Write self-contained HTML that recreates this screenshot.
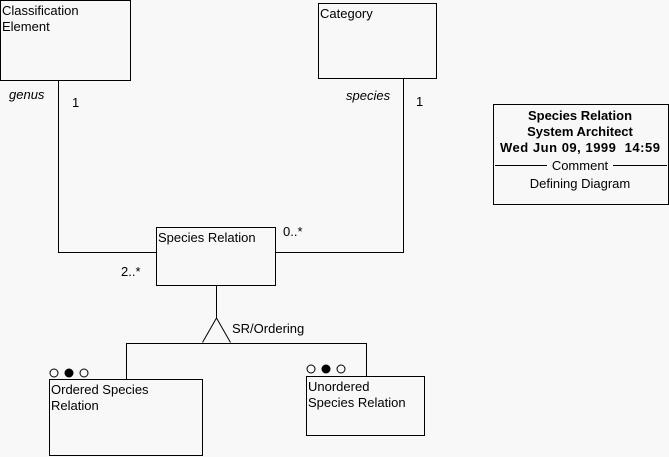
<!DOCTYPE html>
<html><head><style>
html,body{margin:0;padding:0;background:#f8f8f8;}
svg{display:block;}
text{font-family:"Liberation Sans",Arial,sans-serif;font-size:13px;fill:#000;}
</style></head><body>
<svg width="669" height="457" xmlns="http://www.w3.org/2000/svg">
<rect width="669" height="457" fill="#f8f8f8"/>
<g fill="none" stroke="#000" stroke-width="1">
<rect x="0.5" y="0.5" width="130" height="80"/>
<rect x="318.5" y="3.5" width="118" height="75"/>
<rect x="156.5" y="227.5" width="119" height="58"/>
<rect x="49.5" y="379.5" width="153" height="76"/>
<rect x="306.5" y="376.5" width="118" height="59"/>
<rect x="493.5" y="104.5" width="175" height="100"/>
<polyline points="58.5,81 58.5,252.5 156,252.5"/>
<polyline points="276,252.5 403.5,252.5 403.5,79"/>
<line x1="216.5" y1="286" x2="216.5" y2="318"/>
<polyline points="202.5,342.5 216.5,318 230.5,342.5"/>
<polyline points="126.5,379 126.5,343.5 366.5,343.5 366.5,376"/>
<line x1="495" y1="165.5" x2="547" y2="165.5"/>
<line x1="613" y1="165.5" x2="667" y2="165.5"/>
<circle cx="54" cy="373" r="4"/>
<circle cx="84" cy="373" r="4"/>
<circle cx="311" cy="369" r="4"/>
<circle cx="341" cy="369" r="4"/>
</g>
<circle cx="69" cy="373" r="4.5" fill="#000"/>
<circle cx="326" cy="369" r="4.5" fill="#000"/>
<text x="2" y="15">Classification</text>
<text x="2" y="31">Element</text>
<text x="320" y="18">Category</text>
<text x="158" y="242">Species Relation</text>
<text x="9" y="99" font-style="italic">genus</text>
<text x="72" y="107">1</text>
<text x="346" y="100" font-style="italic">species</text>
<text x="416" y="106">1</text>
<text x="283" y="236">0..*</text>
<text x="121" y="276">2..*</text>
<text x="232" y="333">SR/Ordering</text>
<text x="51" y="394">Ordered Species</text>
<text x="51" y="410">Relation</text>
<text x="308" y="391">Unordered</text>
<text x="308" y="407">Species Relation</text>
<text x="580" y="120" text-anchor="middle" font-weight="bold">Species Relation</text>
<text x="580" y="136" text-anchor="middle" font-weight="bold">System Architect</text>
<text x="500" y="152" font-weight="bold" textLength="160" xml:space="preserve">Wed Jun 09, 1999  14:59</text>
<text x="580" y="170" text-anchor="middle">Comment</text>
<text x="580" y="188" text-anchor="middle">Defining Diagram</text>
</svg>
</body></html>
